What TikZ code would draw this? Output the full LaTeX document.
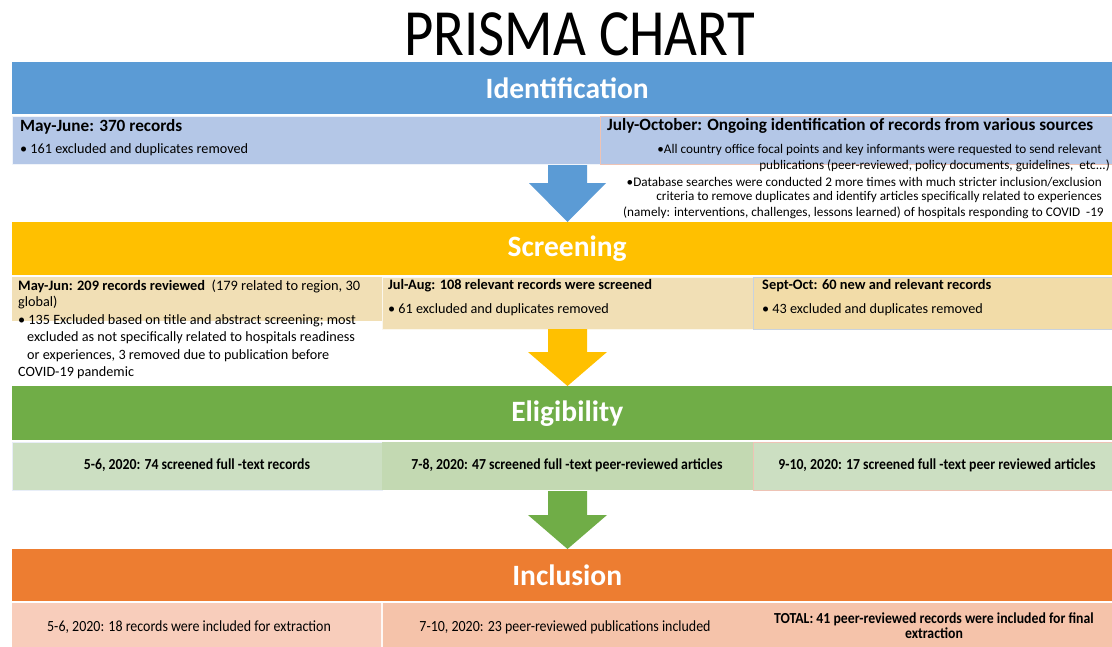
\documentclass[tikz,border=0pt]{standalone}
\usepackage{fontspec}
\setmainfont{Carlito}
\newfontfamily\narrowfont[FakeStretch=0.9]{Carlito}
\newfontfamily\titlefont[FakeStretch=0.86]{Carlito}
\begin{document}
\begin{tikzpicture}[x=1pt,y=-1pt,
  banner/.style={anchor=north west,minimum height=#1,minimum width=1100,inner sep=0pt,
    font=\bfseries\fontsize{29.5}{34}\selectfont,text=white},
  lbl/.style={anchor=west,inner sep=0pt},
  big/.style={font=\bfseries\fontsize{17.2}{20}\selectfont},
  mid/.style={font=\fontsize{14.2}{17}\selectfont},
  midb/.style={font=\bfseries\fontsize{14.4}{17}\selectfont},
  small/.style={font=\fontsize{13.2}{16}\selectfont},
  cond/.style={font=\narrowfont\fontsize{15.5}{18}\selectfont},
  condb/.style={font=\narrowfont\bfseries\fontsize{15.3}{17}\selectfont},
  blockarrow/.style={fill=#1,draw=none}
]
\definecolor{idblue}{HTML}{5B9BD5}
\definecolor{idpale}{HTML}{B4C7E7}
\definecolor{scyel}{HTML}{FFC000}
\definecolor{scpale}{HTML}{F1DFB5}
\definecolor{scpaleb}{HTML}{F2DCA8}
\definecolor{elgreen}{HTML}{70AD47}
\definecolor{elpale}{HTML}{CCDFC2}
\definecolor{elpaleb}{HTML}{C3D9B2}
\definecolor{inorange}{HTML}{ED7D31}
\definecolor{inpale}{HTML}{F8CDBB}
\definecolor{inpaleb}{HTML}{F5C3AA}
\definecolor{pinkline}{HTML}{EEC3B5}
\definecolor{greyline}{HTML}{C8D2DE}

\useasboundingbox (0,0) rectangle (1112,646);
\clip (0,0) rectangle (1112,646);

% title
\node[font=\titlefont\fontsize{66}{72}\selectfont,inner sep=0pt] (title) at (580,34) {PRISMA CHART};

% ---------- Identification ----------
\node[banner=52,fill=idblue] (ident) at (12,62) {\hspace*{10pt}Identification};
\fill[idpale,draw=white!80!idpale] (12,116) rectangle (600,164);
\fill[idpale,draw=pinkline] (600,116) rectangle (1114,164);
\node[lbl,big] (id1h) at (20,127) {May-June: 370 records};
\node[lbl,mid] (id1b) at (20,150) {\textbullet\ 161 excluded and duplicates removed};
\node[lbl,big] (id2h) at (607,126) {July-October: Ongoing identification of records from various sources};
\node[lbl,small,anchor=east] (id2a) at (1102,150) {\textbullet All country office focal points and key informants were requested to send relevant};
\node[lbl,small,anchor=east] (id2b) at (1110,166) {publications (peer-reviewed, policy documents, guidelines,\ \ etc...)};
\node[lbl,small,anchor=east] (id2c) at (1102,182) {\textbullet Database searches were conducted 2 more times with much stricter inclusion/exclusion};
\node[lbl,small,anchor=east] (id2d) at (1102,197) {criteria to remove duplicates and identify articles specifically related to experiences};
\node[lbl,small] (id2e) at (623,213) {(namely: interventions, challenges, lessons learned) of hospitals responding to COVID\ \ -19};

% arrow to screening
\fill[blockarrow=idblue] (548,165) -- (587,165) -- (587,183) -- (606,183) -- (567.5,222) -- (529,183) -- (548,183) -- cycle;

% ---------- Screening ----------
\node[banner=53,fill=scyel] (screen) at (12,222) {\hspace*{10pt}Screening};
\fill[scpale] (12,277) rectangle (382,321);
\fill[scpale,draw=white!75!scpale] (382,277) rectangle (753,329);
\fill[scpaleb,draw=greyline] (753,277) rectangle (1114,329);
\node[lbl,midb] (sc1h) at (18,286) {May-Jun: 209 records reviewed\ \ \mdseries(179 related to region, 30};
\node[lbl,mid] (sc1a) at (18,303) {global)};
\node[lbl,mid] (sc1b) at (18,321) {\textbullet\ 135 Excluded based on title and abstract screening; most};
\node[lbl,mid] (sc1c) at (27,338) {excluded as not specifically related to hospitals readiness};
\node[lbl,mid] (sc1d) at (27,356) {or experiences, 3 removed due to publication before};
\node[lbl,mid] (sc1e) at (18,373) {COVID-19 pandemic};
\node[lbl,midb] (sc2h) at (388,286) {Jul-Aug: 108 relevant records were screened};
\node[lbl,mid] (sc2b) at (388,310) {\textbullet\ 61 excluded and duplicates removed};
\node[lbl,midb] (sc3h) at (762,286) {Sept-Oct: 60 new and relevant records};
\node[lbl,mid] (sc3b) at (762,310) {\textbullet\ 43 excluded and duplicates removed};

% arrow to eligibility
\fill[blockarrow=scyel] (548,329) -- (587,329) -- (587,352) -- (607,352) -- (567.5,386) -- (528,352) -- (548,352) -- cycle;

% ---------- Eligibility ----------
\node[banner=54,fill=elgreen] (elig) at (12,386) {\hspace*{10pt}Eligibility};
\fill[elpale,draw=white!70!idpale] (12,442) rectangle (382,490);
\fill[elpaleb] (382,442) rectangle (753,490);
\fill[elpale,draw=pinkline] (753,442) rectangle (1114,490);
\node[condb] (el1) at (197,465) {5-6, 2020: 74 screened full -text records};
\node[condb] (el2) at (567,465) {7-8, 2020: 47 screened full -text peer-reviewed articles};
\node[condb] (el3) at (937,465) {9-10, 2020: 17 screened full -text peer reviewed articles};

% arrow to inclusion
\fill[blockarrow=elgreen] (548,491) -- (587,491) -- (587,515) -- (607,515) -- (567.5,549) -- (528,515) -- (548,515) -- cycle;

% ---------- Inclusion ----------
\node[banner=52,fill=inorange] (incl) at (12,549) {\hspace*{10pt}Inclusion};
\fill[inpale] (12,603) rectangle (382,648);
\fill[inpaleb] (382,603) rectangle (753,648);
\fill[inpaleb] (753,603) rectangle (1114,648);
\draw[white!85!inpale,line width=1.5pt] (382,603) -- (382,648);
\node[cond] (in1) at (189,627) {5-6, 2020: 18 records were included for extraction};
\node[cond] (in2) at (565,627) {7-10, 2020: 23 peer-reviewed publications included};
\node[condb,align=center] (in3) at (934,626) {TOTAL: 41 peer-reviewed records were included for final\\[-2pt]extraction};
\end{tikzpicture}
\end{document}
